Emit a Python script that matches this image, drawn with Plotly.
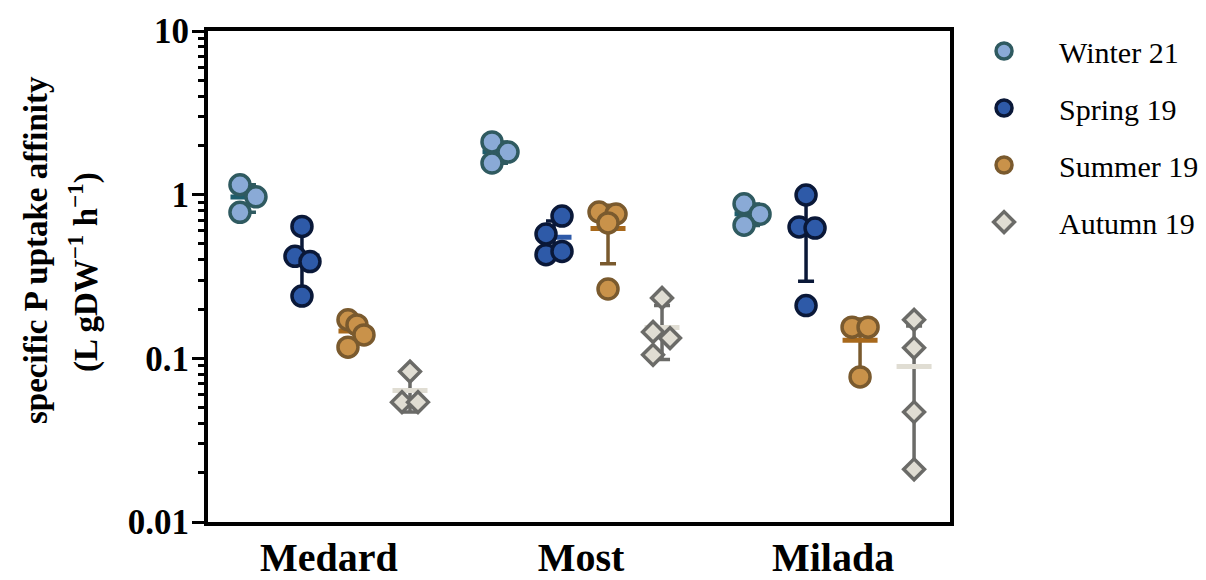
import numpy as np
import plotly.graph_objects as go

sites = ["Medard", "Most", "Milada"]
seasons = ["Winter 21", "Spring 19", "Summer 19", "Autumn 19"]

# values per season, per site
winter_21 = [[1.15, 0.97, 0.78], [2.10, 1.82, 1.56], [0.88, 0.76, 0.65]]
spring_19 = [[0.64, 0.42, 0.39, 0.24], [0.74, 0.575, 0.43, 0.45], [0.995, 0.635, 0.625, 0.21]]
summer_19 = [[0.172, 0.160, 0.139, 0.117], [0.784, 0.762, 0.672, 0.265], [0.155, 0.155, 0.077]]
autumn_19 = [[0.083, 0.054, 0.054], [0.234, 0.145, 0.133, 0.105], [0.172, 0.116, 0.047, 0.021]]
values = [winter_21, spring_19, summer_19, autumn_19]

# scatter dodge of each point (pixels) - layout, not data
jitter_px = [
    [[-8, 8, -8], [-8, 8, -8], [-8, 8, -8]],
    [[0, -7, 8, 0], [8, -8, -8, 8], [0, -7, 9, 0]],
    [[-8, 1, 8, -8], [-9, 8, 0, 0], [-8, 8, 0]],
    [[0, -8, 8], [0, -9, 8, -9], [0, 0, 0, 0]],
]
season_offset_px = [-81, -27, 27, 81]
PX = 1 / 252.0

fill = ["#8aaad6", "#2e5aa8", "#c9924a", "#e0ddd3"]
edge = ["#2f5a60", "#0a1838", "#7a5a2e", "#6b6b68"]
mean_col = ["#1d5d6c", "#2e5aa8", "#a8691c", "#e0ddd3"]
err_col = ["#2f5a60", "#0a1838", "#7a5a2e", "#6b6b68"]
symbols = ["circle", "circle", "circle", "diamond"]
sizes = [20, 20, 20, 16]

FONT = "Liberation Serif, Times New Roman, serif"
fig = go.Figure()

# error bars (SD) and means
for s in range(4):
    xs, ms, sds = [], [], []
    for g in range(3):
        v = np.array(values[s][g])
        xs.append(g + season_offset_px[s] * PX)
        ms.append(v.mean())
        sds.append(v.std(ddof=1))
    fig.add_trace(go.Scatter(
        x=xs, y=ms, mode="markers", showlegend=False, hoverinfo="skip",
        marker=dict(size=1, color="rgba(0,0,0,0)"),
        error_y=dict(type="data", array=sds, color=err_col[s], thickness=3.5, width=8),
    ))
    fig.add_trace(go.Scatter(
        x=xs, y=ms, mode="markers", showlegend=False, hoverinfo="skip",
        marker=dict(symbol="line-ew", size=25, line=dict(color=mean_col[s], width=5)),
    ))

# points
for s in range(4):
    xs, ys = [], []
    for g in range(3):
        for v, j in zip(values[s][g], jitter_px[s][g]):
            xs.append(g + (season_offset_px[s] + j) * PX)
            ys.append(v)
    fig.add_trace(go.Scatter(
        x=xs, y=ys, mode="markers", name=seasons[s], legendgroup=seasons[s],
        marker=dict(symbol=symbols[s], size=sizes[s], color=fill[s],
                    line=dict(color=edge[s], width=3.5)),
    ))

minor_vals = [m * 10.0 ** e for e in (-2, -1, 0) for m in range(2, 10)]

title_font = dict(family=FONT, size=33, color="black", weight="bold")
fig.add_annotation(text="specific P uptake affinity", xref="paper", yref="paper",
                   x=-0.2318, y=0.554, xanchor="center", yanchor="middle",
                   textangle=-90, showarrow=False, font=title_font)
fig.add_annotation(text="(L gDW<sup>\u22121</sup> h<sup>\u22121</sup>)", xref="paper", yref="paper",
                   x=-0.1685, y=0.509, xanchor="center", yanchor="middle",
                   textangle=-90, showarrow=False, font=title_font)

fig.update_layout(
    width=1198, height=572,
    margin=dict(l=200, r=256, t=23, b=58, autoexpand=False),
    paper_bgcolor="white", plot_bgcolor="white",
    font=dict(family=FONT, color="black"),
    legend=dict(x=0.9987, y=1.0122, xanchor="left", yanchor="top",
                bgcolor="rgba(0,0,0,0)",
                font=dict(family=FONT, size=30, color="black"), tracegroupgap=15,
                itemsizing="trace", itemwidth=100),
    xaxis=dict(range=[-0.48, 2.464], tickvals=[0, 1, 2], ticktext=sites,
               showline=True, linewidth=4, linecolor="black", mirror=True,
               showgrid=False, zeroline=False, ticks="", automargin=False,
               tickfont=dict(family=FONT, size=40, weight="bold"),
               ticklabelstandoff=-3),
    yaxis=dict(type="log", range=[-2, 1], automargin=False,
               tickvals=[0.01, 0.1, 1, 10], ticktext=["0.01", "0.1", "1", "10"],
               showline=True, linewidth=4, linecolor="black", mirror=True,
               showgrid=False, zeroline=False,
               ticks="outside", ticklen=12, tickwidth=3, tickcolor="black",
               minor=dict(tickvals=minor_vals, ticks="outside", ticklen=6,
                          tickwidth=3, tickcolor="black", showgrid=False),
               tickfont=dict(family=FONT, size=35, weight="bold"),
               ticklabelstandoff=-4),
)

fig.write_html("out.html")
